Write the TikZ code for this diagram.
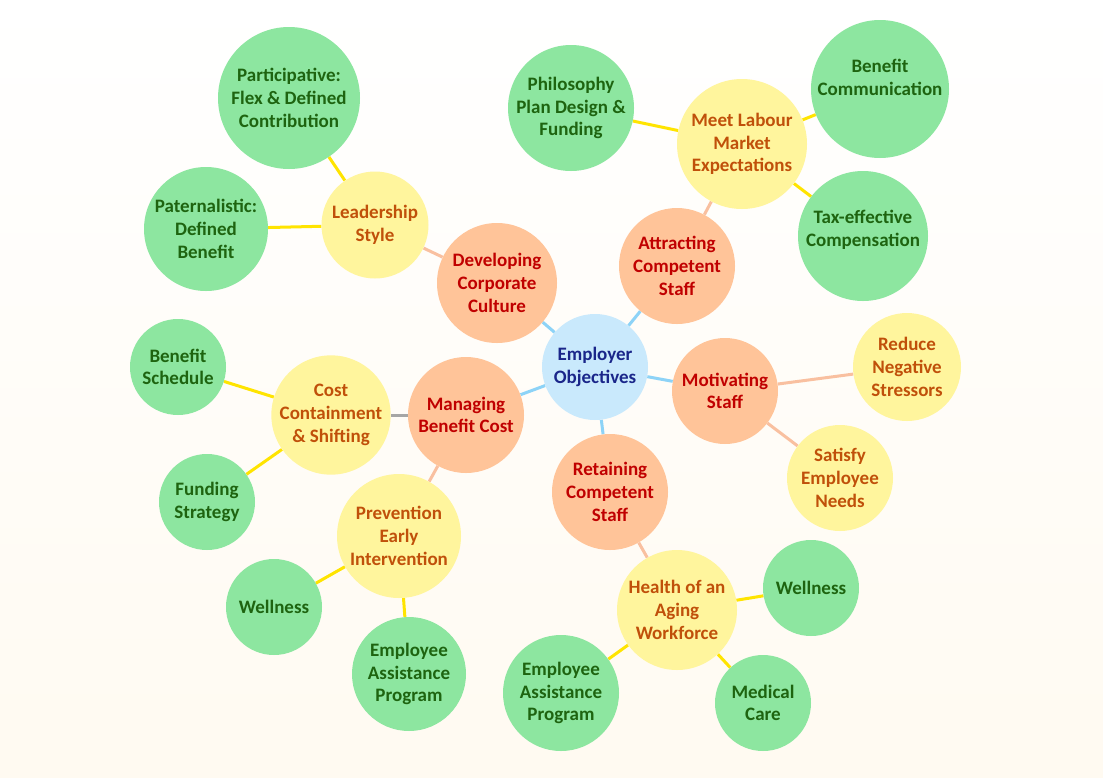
\documentclass[tikz,border=0pt]{standalone}
\usepackage{fontspec}
\setmainfont{Carlito}
\usetikzlibrary{backgrounds}

\definecolor{hubfill}{RGB}{201,233,252}
\definecolor{hubtext}{RGB}{26,38,138}
\definecolor{goalfill}{RGB}{255,196,153}
\definecolor{goaltext}{RGB}{192,0,0}
\definecolor{issuefill}{RGB}{255,245,157}
\definecolor{issuetext}{RGB}{192,80,10}
\definecolor{toolfill}{RGB}{141,230,160}
\definecolor{tooltext}{RGB}{30,100,16}
\definecolor{hubline}{RGB}{141,211,247}
\definecolor{goalline}{RGB}{249,192,160}
\definecolor{issueline}{RGB}{255,228,0}
\definecolor{costline}{RGB}{166,166,166}
\definecolor{bgcream}{RGB}{255,250,241}

\begin{document}
\begin{tikzpicture}[x=1pt,y=-1pt,
    bubble/.style={circle,inner sep=0pt,align=center,minimum size=#1,
      font=\bfseries\fontsize{19}{22.7}\selectfont},
    hub/.style={bubble=#1,fill=hubfill,text=hubtext},
    goal/.style={bubble=#1,fill=goalfill,text=goaltext},
    issue/.style={bubble=#1,fill=issuefill,text=issuetext},
    tool/.style={bubble=#1,fill=toolfill,text=tooltext},
    link/.style={line width=3pt,draw=#1}]
  \useasboundingbox (0,0) rectangle (1103,777);

  % centre
  \node[hub=106] (emp) at (595,367) {Employer\\Objectives};

  % objectives
  \node[goal=120] (dev) at (497,283) {Developing\\Corporate\\Culture};
  \node[goal=116] (att) at (677,266) {Attracting\\Competent\\Staff};
  \node[goal=106] (mot) at (725,391) {Motivating\\Staff};
  \node[goal=116] (ret) at (610,492) {Retaining\\Competent\\Staff};
  \node[goal=116] (man) at (466,415) {Managing\\Benefit Cost};

  % issues
  \node[issue=107] (lead) at (375,225) {Leadership\\Style};
  \node[issue=130] (meet) at (742,144) {Meet Labour\\Market\\Expectations};
  \node[issue=108] (reduce) at (907,367) {Reduce\\Negative\\Stressors};
  \node[issue=106] (satisfy) at (840,478) {Satisfy\\Employee\\Needs};
  \node[issue=120] (health) at (677,610) {Health of an\\Aging\\Workforce};
  \node[issue=124] (prev) at (399,536) {Prevention\\Early\\Intervention};
  \node[issue=116] (cost) at (331,415) {Cost\\Containment\\\& Shifting};

  % plans
  \node[tool=142] (part) at (289,98) {Participative:\\Flex \& Defined\\Contribution};
  \node[tool=124] (pat) at (206,229) {Paternalistic:\\Defined\\Benefit};
  \node[tool=126] (phil) at (571,108) {Philosophy\\Plan Design \&\\Funding};
  \node[tool=138] (comm) at (880,89) {Benefit\\Communication\\ };
  \node[tool=130] (tax) at (863,236) {Tax-effective\\Compensation\\[-8pt] };
  \node[tool=96] (sched) at (178,367) {Benefit\\Schedule};
  \node[tool=96] (fund) at (207,502) {Funding\\Strategy};
  \node[tool=96] (well) at (274,607) {Wellness};
  \node[tool=114] (eap) at (409,674) {Employee\\Assistance\\Program};
  \node[tool=116] (eapb) at (561,693) {Employee\\Assistance\\Program};
  \node[tool=96] (wellb) at (811,588) {Wellness};
  \node[tool=96] (med) at (763,703) {Medical\\Care};

  \begin{scope}[on background layer]
    \shade[top color=white,bottom color=bgcream] (0,0) rectangle (1103,777);
    \foreach \n in {dev,att,mot,ret,man}
      \draw[link=hubline] (emp) -- (\n);
    \foreach \a/\b in {dev/lead,att/meet,mot/reduce,mot/satisfy,ret/health,man/prev}
      \draw[link=goalline] (\a) -- (\b);
    \draw[link=costline] (man) -- (cost);
    \foreach \a/\b in {lead/part,lead/pat,meet/phil,meet/comm,meet/tax,cost/sched,cost/fund,
                       prev/well,prev/eap,health/eapb,health/wellb,health/med}
      \draw[link=issueline] (\a) -- (\b);
  \end{scope}
\end{tikzpicture}
\end{document}
